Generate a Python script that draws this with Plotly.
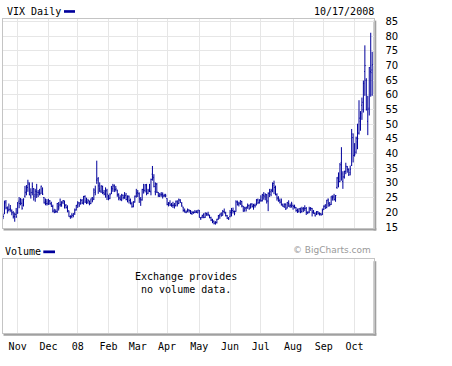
import pandas as pd
import plotly.graph_objects as go

# ---------------- data ----------------
holidays = ["2007-11-22", "2007-12-25", "2008-01-01", "2008-01-21", "2008-02-18",
            "2008-03-21", "2008-05-26", "2008-07-04", "2008-09-01"]
dates = [d.strftime("%Y-%m-%d") for d in pd.bdate_range("2007-10-18", "2008-10-17")
         if d.strftime("%Y-%m-%d") not in holidays]

month_ticks = ["2007-11-01", "2007-12-03", "2008-01-02", "2008-02-01", "2008-03-03", "2008-04-01",
               "2008-05-01", "2008-06-02", "2008-07-01", "2008-08-01", "2008-09-02", "2008-10-01"]
month_labels = ["Nov", "Dec", "08", "Feb", "Mar", "Apr", "May", "Jun", "Jul", "Aug", "Sep", "Oct"]
price_ticks = [15, 20, 25, 30, 35, 40, 45, 50, 55, 60, 65, 70, 75, 80, 85]

vix_open = [
    18.5, 19.5, 23.5, 21.3, 20.8, 21.0, 20.5, 19.8, 18.6, 19.3,
    19.8, 23.8, 24.4, 23.0, 22.3, 25.5, 27.0, 28.5, 29.5, 25.6, 26.8, 28.0, 26.0, 27.0, 26.8, 26.5, 26.5, 28.0, 25.0, 23.5, 23.0,
    23.2, 23.9, 22.8, 22.0, 20.5, 20.2, 20.3, 22.0, 22.5, 22.5, 23.5, 23.8, 22.4, 21.5, 20.5, 18.6, 18.6, 18.9, 19.8, 20.9,
    22.6, 23.2, 23.0, 24.0, 23.0, 25.4, 24.0, 23.5, 23.8, 23.0, 25.0, 24.5, 26.8, 31.0, 31.5, 28.0, 27.0, 28.8, 26.7, 26.2, 27.5,
    25.5, 24.8, 26.5, 28.0, 29.2, 27.8, 27.6, 26.0, 24.8, 24.3, 25.8, 25.0, 25.8, 24.3, 25.5, 24.0, 22.9, 22.1, 23.5, 25.5,
    26.8, 26.3, 24.5, 24.2, 27.8, 27.5, 29.0, 26.5, 27.8, 27.0, 33.0, 31.8, 27.0, 29.6, 26.8, 25.5, 26.2, 26.0, 25.7, 25.5,
    24.7, 22.7, 23.2, 22.5, 22.3, 22.5, 22.3, 23.5, 23.0, 24.0, 22.9, 21.8, 20.6, 20.0, 20.6, 20.8, 20.4, 19.6, 20.0, 20.0, 20.1, 19.8,
    20.5, 18.0, 18.4, 19.2, 18.3, 19.6, 19.4, 19.0, 18.2, 17.3, 17.0, 16.4, 16.5, 17.7, 18.8, 19.5, 19.0, 20.3, 19.8, 18.8, 18.0,
    18.5, 19.8, 20.6, 20.3, 20.3, 23.4, 22.8, 23.0, 23.7, 22.0, 20.8, 21.3, 22.0, 22.3, 21.5, 22.8, 22.3, 22.3, 22.5, 24.2, 23.2,
    24.2, 24.0, 25.8, 25.3, 26.0, 23.8, 26.5, 27.0, 27.0, 29.8, 28.5, 26.0, 24.7, 24.0, 23.8, 22.5, 22.0, 22.8, 21.5, 23.0, 22.2, 22.0,
    22.4, 22.0, 21.6, 20.6, 20.4, 21.2, 20.3, 21.2, 21.2, 21.4, 20.0, 20.1, 21.4, 21.3, 20.3, 19.6, 19.2, 20.2, 19.7, 19.5, 19.2,
    21.0, 22.2, 21.6, 24.5, 22.5, 22.7, 25.0, 25.5, 24.8, 28.5, 32.0, 30.5, 37.0, 30.5, 32.0, 34.0, 35.5, 34.5, 33.5, 36.0, 45.5,
    39.5, 40.5, 44.0, 47.0, 51.0, 56.5, 55.0, 68.0, 65.0, 51.0, 55.5, 68.0, 68.5,
]
vix_high = [
    19.4, 24.0, 24.2, 22.0, 23.0, 22.5, 21.0, 20.4, 19.9, 21.5,
    23.5, 25.2, 24.9, 24.6, 24.8, 29.0, 29.3, 31.1, 30.2, 28.2, 30.2, 28.3, 28.0, 29.7, 27.6, 28.0, 29.1, 28.5, 25.2, 24.7, 24.5,
    24.6, 24.2, 23.6, 22.6, 21.2, 21.0, 23.2, 23.5, 24.7, 23.8, 24.2, 24.0, 22.8, 22.4, 20.6, 19.0, 19.7, 19.7, 21.3, 22.5,
    23.8, 23.5, 24.6, 24.5, 25.6, 25.8, 25.0, 24.6, 24.0, 24.7, 25.2, 28.2, 29.1, 37.6, 32.0, 30.2, 29.2, 29.1, 27.6, 28.5, 28.0,
    26.0, 26.5, 29.0, 29.7, 29.5, 29.0, 27.7, 26.5, 25.8, 26.3, 26.0, 26.9, 26.6, 25.8, 25.7, 24.7, 23.6, 23.8, 25.7, 28.0,
    27.6, 26.8, 25.2, 28.0, 29.7, 29.6, 29.7, 28.0, 29.7, 31.5, 35.8, 33.0, 30.2, 30.0, 26.9, 26.6, 26.9, 26.8, 26.3, 26.3,
    24.8, 23.5, 24.1, 23.2, 23.6, 23.2, 24.0, 24.1, 24.7, 24.5, 23.5, 21.9, 21.3, 20.6, 21.3, 21.0, 20.8, 20.5, 20.3, 20.8, 20.7, 20.8,
    20.8, 18.4, 19.2, 19.7, 19.9, 19.9, 20.2, 19.2, 18.5, 17.8, 17.2, 17.0, 17.8, 19.1, 19.5, 20.0, 20.8, 21.3, 20.2, 19.1, 18.4,
    20.8, 21.5, 21.6, 20.6, 24.1, 24.0, 23.6, 24.1, 23.9, 22.2, 21.9, 21.9, 23.0, 22.7, 23.0, 23.1, 22.9, 23.0, 24.5, 24.7, 24.5,
    25.8, 26.3, 26.9, 26.5, 26.2, 26.8, 28.0, 28.0, 30.2, 30.8, 29.1, 26.5, 25.5, 24.7, 24.7, 23.0, 23.0, 23.0, 23.5, 24.1, 23.0, 23.6,
    22.6, 22.6, 21.8, 21.3, 21.4, 21.6, 21.9, 21.8, 22.4, 21.8, 20.3, 21.9, 21.8, 21.5, 20.8, 20.0, 20.4, 20.4, 20.0, 19.8, 21.3,
    22.4, 22.8, 24.3, 24.7, 23.5, 25.5, 25.8, 26.3, 25.9, 32.0, 33.6, 36.8, 42.2, 34.0, 34.2, 36.9, 35.8, 35.0, 35.9, 48.4, 46.9,
    43.6, 45.8, 50.2, 58.2, 54.5, 59.1, 64.9, 76.9, 65.7, 59.7, 69.5, 81.2, 74.7,
]
vix_low = [
    17.7, 19.4, 21.0, 19.6, 20.3, 20.2, 19.0, 17.9, 16.8, 18.1,
    19.5, 21.4, 22.4, 20.9, 22.0, 25.0, 25.8, 27.0, 25.8, 24.7, 25.8, 24.0, 23.6, 24.9, 25.2, 25.8, 26.3, 25.9, 23.0, 22.4, 22.3,
    22.5, 22.6, 21.9, 20.0, 19.7, 19.8, 19.8, 20.6, 21.9, 21.9, 22.8, 21.3, 21.3, 20.0, 18.5, 17.8, 18.0, 18.3, 19.1, 20.6,
    21.5, 21.8, 22.6, 22.8, 22.6, 23.2, 22.8, 22.9, 22.4, 22.8, 23.4, 24.2, 25.8, 29.7, 26.3, 26.9, 26.6, 26.2, 25.8, 25.0, 24.2,
    24.1, 24.5, 26.2, 27.0, 26.9, 27.1, 25.3, 24.1, 24.0, 23.8, 24.4, 24.6, 24.1, 23.4, 23.0, 22.7, 21.6, 21.7, 23.3, 25.0,
    25.2, 23.2, 22.2, 24.0, 26.4, 26.8, 25.8, 26.2, 26.9, 25.8, 30.8, 28.5, 25.8, 26.6, 25.2, 25.2, 25.3, 24.7, 25.2, 25.1,
    22.4, 22.0, 22.2, 21.9, 21.5, 21.3, 22.0, 22.0, 22.8, 23.2, 21.9, 20.2, 19.9, 19.7, 20.0, 19.9, 19.4, 19.1, 19.5, 19.7, 19.8, 19.7,
    18.2, 17.4, 18.0, 18.0, 18.1, 18.8, 18.7, 18.0, 17.0, 16.3, 15.9, 15.8, 16.2, 17.5, 17.8, 18.6, 18.9, 19.7, 18.6, 17.7, 17.4,
    18.3, 18.6, 19.6, 19.0, 20.2, 22.4, 22.0, 22.5, 21.7, 20.2, 20.2, 20.3, 21.2, 20.9, 21.3, 21.6, 20.9, 21.6, 22.4, 22.8, 23.0,
    23.6, 23.7, 24.3, 24.1, 23.0, 20.4, 25.2, 25.5, 26.9, 26.2, 25.8, 24.0, 23.6, 23.0, 22.3, 21.9, 21.5, 20.8, 21.3, 21.9, 21.5, 21.6,
    20.9, 21.3, 20.2, 19.8, 20.0, 19.7, 19.9, 20.1, 20.4, 19.1, 19.4, 19.7, 20.5, 18.6, 19.5, 18.6, 19.1, 19.2, 18.9, 18.9, 19.1,
    20.8, 21.2, 21.4, 21.9, 22.0, 22.5, 24.0, 24.0, 23.6, 28.0, 28.5, 30.3, 30.8, 28.0, 31.5, 33.0, 33.5, 32.4, 32.6, 35.8, 37.0,
    39.0, 40.0, 41.5, 46.5, 47.8, 51.5, 54.0, 59.7, 54.7, 46.3, 53.0, 59.4, 59.7,
]
vix_close = [
    18.6, 23.0, 21.6, 20.4, 21.0, 21.2, 20.0, 18.5, 19.3, 18.5,
    23.2, 23.0, 23.4, 21.4, 24.5, 26.7, 28.5, 30.0, 26.0, 26.7, 28.8, 25.5, 27.2, 26.0, 26.8, 26.0, 28.9, 26.2, 23.2, 23.6, 22.9,
    23.8, 23.0, 22.0, 20.4, 20.0, 20.3, 23.0, 21.5, 22.6, 23.2, 24.0, 22.5, 21.7, 20.6, 18.5, 18.6, 19.0, 19.5, 20.7, 22.4,
    23.2, 22.5, 24.2, 23.2, 25.4, 23.5, 23.3, 24.0, 22.9, 24.6, 24.1, 27.6, 27.2, 31.0, 29.0, 27.4, 29.0, 26.6, 26.2, 27.1, 26.2,
    24.5, 26.0, 28.2, 28.9, 27.7, 28.0, 26.0, 25.0, 24.4, 25.9, 25.0, 25.6, 24.4, 25.2, 24.1, 23.0, 21.9, 23.6, 25.5, 26.5,
    26.5, 24.6, 24.3, 27.8, 27.5, 29.4, 26.4, 27.3, 27.3, 31.2, 32.2, 28.8, 29.8, 26.9, 25.8, 25.9, 26.0, 25.4, 25.8, 25.6,
    22.7, 23.0, 22.5, 22.5, 22.4, 22.2, 23.8, 22.8, 24.3, 23.5, 22.2, 20.6, 20.4, 20.1, 20.8, 20.6, 19.6, 19.9, 20.0, 20.1, 20.0, 20.8,
    18.3, 18.2, 18.9, 18.2, 19.8, 19.1, 19.2, 18.1, 17.4, 17.0, 16.3, 16.5, 17.6, 18.9, 19.4, 18.8, 20.3, 19.8, 18.9, 18.0, 17.8,
    20.0, 20.6, 20.3, 19.7, 23.6, 22.5, 23.2, 24.0, 22.3, 20.4, 21.6, 21.7, 22.2, 21.2, 22.9, 22.0, 22.5, 22.2, 24.4, 23.4, 24.0,
    23.9, 26.0, 25.6, 26.0, 23.9, 26.5, 26.1, 27.5, 29.2, 28.5, 26.0, 24.9, 24.0, 23.4, 22.6, 22.1, 22.8, 21.2, 23.4, 22.0, 22.3, 22.9,
    22.0, 21.8, 20.6, 20.0, 21.2, 20.0, 21.2, 21.2, 21.3, 20.0, 20.0, 21.2, 21.3, 20.0, 19.8, 18.8, 20.2, 19.7, 19.3, 19.1, 20.6,
    22.0, 21.4, 24.0, 23.1, 22.6, 25.5, 25.0, 24.4, 25.7, 31.7, 30.3, 36.2, 33.1, 32.1, 33.9, 35.7, 34.7, 32.8, 34.7, 46.7, 39.4,
    39.8, 45.3, 45.1, 52.1, 53.7, 57.5, 63.9, 70.0, 55.0, 55.1, 69.3, 67.6, 70.3,
]

assert len(dates) == len(vix_open) == len(vix_high) == len(vix_low) == len(vix_close) == 253

# ---------------- layout helpers ----------------
W, H = 452, 366
BAR = "#00009c"
GRID = "#e6e6e6"
FRAME = "#c4c4c4"
SHADOW = "#a0a0a0"
MONO = "DejaVu Sans Mono"


def px(x):
    return x / W


def py(y):
    return 1 - y / H


MX0, MX1 = 2.5, 373.5
P_TOP, P_BOT = 16, 230
V_TOP, V_BOT = 262, 337.5

fig = go.Figure()
fig.add_trace(go.Ohlc(
    x=dates, open=vix_open, high=vix_high, low=vix_low, close=vix_close,
    increasing=dict(line=dict(color=BAR, width=1)),
    decreasing=dict(line=dict(color=BAR, width=1)),
    tickwidth=0.5, showlegend=False, hoverinfo="skip",
    xaxis="x", yaxis="y",
))
fig.add_trace(go.Scatter(
    x=dates, y=[None] * len(dates), mode="lines", showlegend=False,
    hoverinfo="skip", xaxis="x2", yaxis="y2",
))

xcommon = dict(
    type="category", categoryorder="array", categoryarray=dates,
    range=[-0.34, 252.9], tickmode="array", tickvals=month_ticks, ticktext=month_labels,
    showgrid=True, gridcolor=GRID, gridwidth=1,
    showline=True, linecolor=FRAME, linewidth=1, mirror=True,
    zeroline=False, rangeslider=dict(visible=False), fixedrange=True,
)

fig.update_layout(
    width=W, height=H,
    margin=dict(l=0, r=0, t=0, b=0),
    paper_bgcolor="white", plot_bgcolor="white",
    showlegend=False,
    xaxis=dict(xcommon, domain=[px(MX0), px(MX1)], anchor="y", showticklabels=False, ticks=""),
    yaxis=dict(
        domain=[py(P_BOT), py(P_TOP)], range=[14.67, 86], side="right",
        tickmode="array", tickvals=price_ticks, ticks="", ticklabelstandoff=9,
        tickfont=dict(family="DejaVu Sans", size=10, color="#000"),
        showgrid=True, gridcolor=GRID, gridwidth=1,
        showline=True, linecolor=FRAME, linewidth=1, mirror=True,
        zeroline=False, anchor="x", fixedrange=True,
    ),
    xaxis2=dict(xcommon, domain=[px(MX0), px(MX1)], anchor="y2", showticklabels=True,
                ticks="", ticklabelstandoff=4,
                tickfont=dict(family=MONO, size=10, color="#000")),
    yaxis2=dict(
        domain=[py(V_BOT), py(V_TOP)], range=[0, 1], showgrid=False, showticklabels=False,
        ticks="", showline=True, linecolor=FRAME, linewidth=1, mirror=True,
        zeroline=False, anchor="x2", fixedrange=True,
    ),
)

shapes = []
for top, bot in [(P_TOP, P_BOT), (V_TOP, V_BOT)]:
    # drop shadow on the right and bottom
    shapes.append(dict(type="rect", xref="paper", yref="paper", layer="below",
                       x0=px(MX1), x1=px(MX1 + 2.8), y0=py(bot + 2.6), y1=py(top + 2),
                       fillcolor=SHADOW, line=dict(width=0)))
    shapes.append(dict(type="rect", xref="paper", yref="paper", layer="below",
                       x0=px(MX0 + 1), x1=px(MX1 + 2.8), y0=py(bot + 2.6), y1=py(bot),
                       fillcolor=SHADOW, line=dict(width=0)))
# legend swatches
shapes.append(dict(type="rect", xref="paper", yref="paper", x0=px(64), x1=px(75),
                   y0=py(10), y1=py(7.3), fillcolor=BAR, line=dict(width=0)))
shapes.append(dict(type="rect", xref="paper", yref="paper", x0=px(43.3), x1=px(55),
                   y0=py(255.8), y1=py(253), fillcolor=BAR, line=dict(width=0)))
fig.update_layout(shapes=shapes)

ann = [
    dict(text="VIX Daily", x=px(5), y=py(8.5), xanchor="left", yanchor="middle",
         font=dict(family=MONO, size=10, color="#000")),
    dict(text="10/17/2008", x=px(375.5), y=py(8.5), xanchor="right", yanchor="middle",
         font=dict(family=MONO, size=10, color="#000")),
    dict(text="Volume", x=px(3), y=py(254.5), xanchor="left", yanchor="middle",
         font=dict(family=MONO, size=10, color="#000")),
    dict(text="© BigCharts.com", x=px(372.5), y=py(253), xanchor="right", yanchor="middle",
         font=dict(family="DejaVu Sans", size=9, color="#999999")),
    dict(text="Exchange provides<br>no volume data.", x=px(186), y=py(286.3),
         xanchor="center", yanchor="middle", align="center",
         font=dict(family=MONO, size=10, color="#000")),
]
for a in ann:
    a.update(xref="paper", yref="paper", showarrow=False)
fig.update_layout(annotations=ann)

fig.write_html("out.html", post_script="document.body.style.margin='0px';",
               config={"displayModeBar": False})
